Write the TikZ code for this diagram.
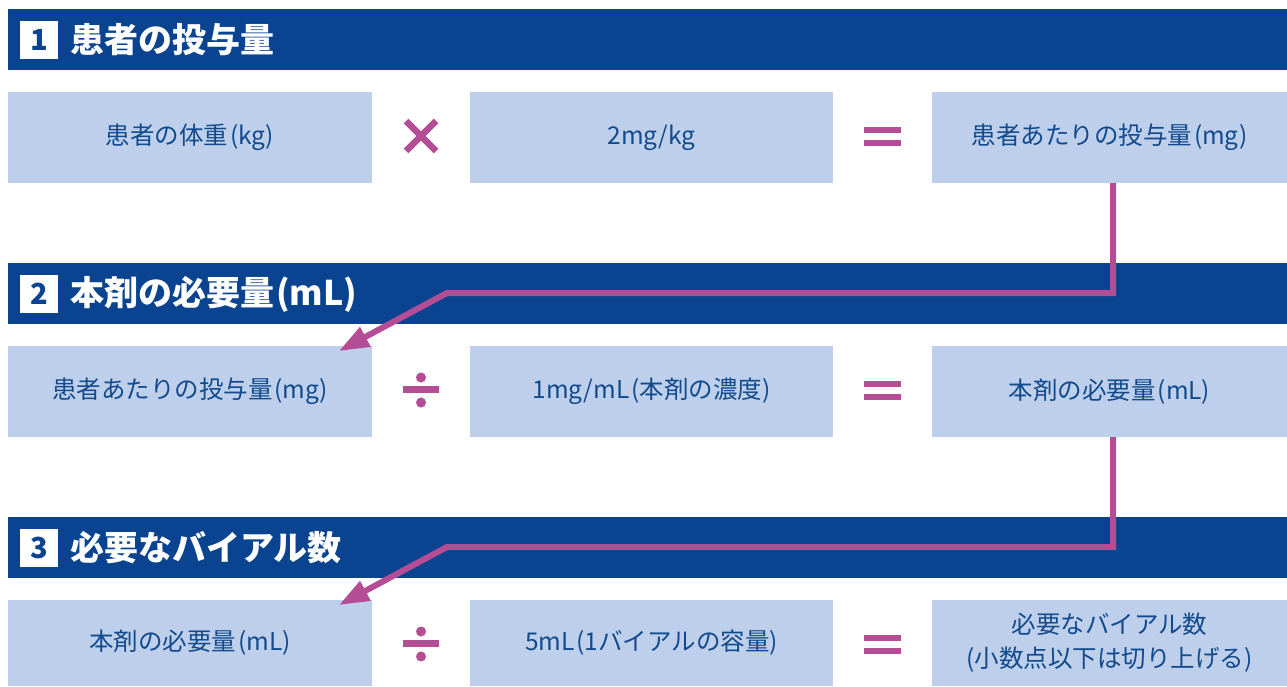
\documentclass[tikz,border=0pt]{standalone}
\usepackage{fontspec}
\newfontfamily\jp{Noto Sans CJK JP}
\usetikzlibrary{arrows.meta}
\definecolor{navy}{HTML}{0A4491}
\definecolor{pale}{HTML}{BDCFEA}
\definecolor{mag}{HTML}{B54C96}
\definecolor{txt}{HTML}{124A8E}
\newcommand\lp{\hspace{2pt}(}
\newcommand\rp{)}
\tikzset{
  header/.style={fill=navy, draw=none, minimum width=1279pt, minimum height=61pt, inner sep=0pt, anchor=north west},
  numbox/.style={fill=white, minimum width=38pt, minimum height=38pt, inner sep=0pt, font=\jp\bfseries\fontsize{29}{30}\selectfont, text=navy},
  htext/.style={anchor=west, inner sep=0pt, text=white, font=\jp\bfseries\fontsize{34}{36}\selectfont},
  cell/.style={fill=pale, draw=none, minimum height=91pt, inner sep=0pt, text=txt, font=\jp\fontsize{24.5}{34}\selectfont, align=center},
  flow/.style={draw=mag, line width=6pt, line join=miter, -{Triangle[length=30pt,width=21pt]}},
  opline/.style={draw=mag, line width=6.5pt},
}
\begin{document}
\begin{tikzpicture}[x=1pt,y=-1pt]
\useasboundingbox (0,0) rectangle (1287,686);
% headers
\foreach \i/\y/\t in {1/9/患者の投与量, 2/263/本剤の必要量\lp mL\rp, 3/517/必要なバイアル数}{
  \node[header] (h\i) at (8,\y) {};
  \node[numbox] (n\i) at (39,\y+31) {\i};
  \node[htext] (ht\i) at (70,\y+31) {\t};
}
% row 1
\node[cell, minimum width=364pt] (a1) at (190,137.5) {患者の体重\lp kg\rp};
\node[cell, minimum width=363pt] (b1) at (651.5,137.5) {2mg/kg};
\node[cell, minimum width=355pt] (c1) at (1109.5,137.5) {患者あたりの投与量\lp mg\rp};
% row 2
\node[cell, minimum width=364pt] (a2) at (190,391.5) {患者あたりの投与量\lp mg\rp};
\node[cell, minimum width=363pt] (b2) at (651.5,391.5) {1mg/mL\lp 本剤の濃度\rp};
\node[cell, minimum width=355pt] (c2) at (1109.5,391.5) {本剤の必要量\lp mL\rp};
% row 3
\node[cell, minimum width=364pt, minimum height=86pt] (a3) at (190,643) {本剤の必要量\lp mL\rp};
\node[cell, minimum width=363pt, minimum height=86pt] (b3) at (651.5,643) {5mL\lp 1バイアルの容量\rp};
\node[cell, minimum width=355pt, minimum height=86pt] (c3) at (1109.5,643) {必要なバイアル数\\(小数点以下は切り上げる)};
% operators
\draw[opline] (406,121) -- (436,151) (436,121) -- (406,151);
\foreach \y in {0,254,508}{
  \fill[mag] (864,127+\y) rectangle (901,133+\y);
  \fill[mag] (864,139.5+\y) rectangle (901,145.5+\y);
}
\foreach \y in {391.5,645.5}{
  \fill[mag] (403,\y-5.5) rectangle (439,\y+1.5);
  \fill[mag] (421,\y-14) circle (5pt);
  \fill[mag] (421,\y+11) circle (5pt);
}
% connectors
\coordinate (k1) at (447,293);
\coordinate (t1) at (339,351);
\coordinate (k2) at (447,547);
\coordinate (t2) at (339,605);
\draw[flow] ([xshift=3.5pt]c1.south) |- (k1) -- (t1);
\draw[flow] ([xshift=3.5pt]c2.south) |- (k2) -- (t2);
\end{tikzpicture}
\end{document}
